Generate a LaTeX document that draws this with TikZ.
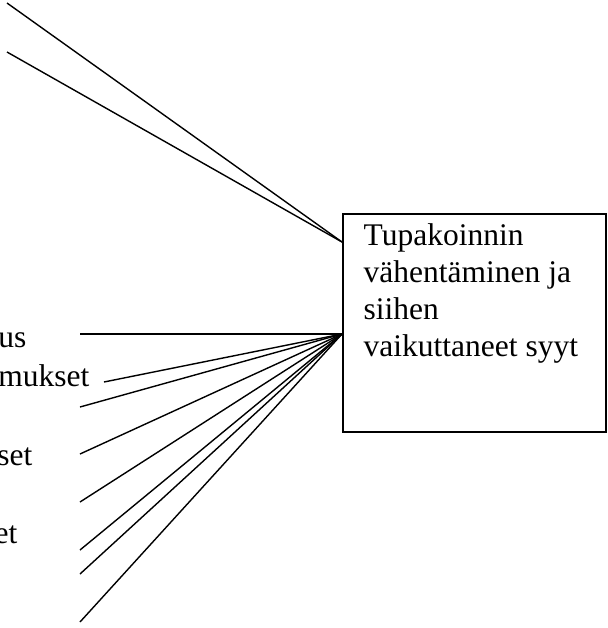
\documentclass[tikz,border=0pt]{standalone}
\usepackage{fontspec}
\setmainfont{Liberation Serif}
\usepackage{tikz}
\usetikzlibrary{calc}

\begin{document}
\begin{tikzpicture}[x=0.5pt, y=-0.5pt, line width=0.7pt,
    cause/.style={anchor=base east, inner sep=0pt, font=\fontsize{15.75}{18.5}\selectfont}]

    % --- Page frame ---
    \useasboundingbox (0,0) rectangle (607,628);

    % --- Goal box ---
    \node (goal) [draw, line width=0.9pt, anchor=north west, inner sep=0pt,
        minimum width=131.5pt, minimum height=109pt] at (342,213) {};
    \node (goal-text) [anchor=north west, inner sep=0pt, align=left,
        font=\fontsize{15.75}{18.5}\selectfont] at (363,222.5)
        {Tupakoinnin\\vähentäminen ja\\siihen\\vaikuttaneet syyt};

    % --- Meeting points on the box ---
    \coordinate (goal-top) at (342,242);
    \coordinate (goal-low) at (342,334);

    % --- Upper rays ---
    \coordinate (U1) at (7,3);
    \coordinate (U2) at (7,52);
    \draw (U1) -- (goal-top);
    \draw (U2) -- (goal-top);

    % --- Lower rays ---
    \coordinate (L1) at (80,334);
    \coordinate (L2) at (104,382);
    \coordinate (L3) at (80,407);
    \coordinate (L4) at (80,454);
    \coordinate (L5) at (80,502);
    \coordinate (L6) at (80,550);
    \coordinate (L7) at (80,574);
    \coordinate (L8) at (80,622);
    \foreach \i in {1,...,8}
        \draw (L\i) -- (goal-low);

    % --- Cut-off labels ---
    \node (c-us) [cause] at (27,347) {us};
    \node (c-mukset) [cause] at (90,386) {mukset};
    \node (c-set) [cause] at (33,465) {set};
    \node (c-et) [cause] at (18,543) {et};

\end{tikzpicture}
\end{document}
